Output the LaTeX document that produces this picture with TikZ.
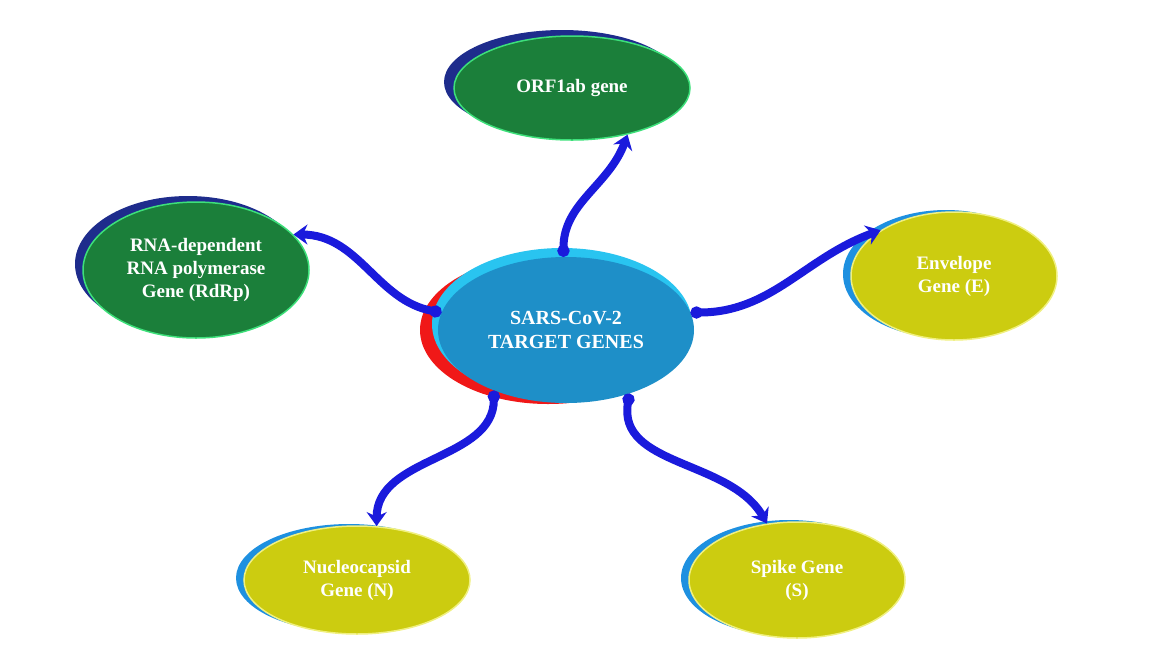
\documentclass[tikz,border=0pt]{standalone}
\usepackage{fontspec}
\setmainfont{Liberation Serif}
\usetikzlibrary{shapes.geometric, arrows.meta}
\definecolor{hubblue}{HTML}{1E8FC8}
\definecolor{hubrim}{HTML}{29C4F0}
\definecolor{hubred}{HTML}{F01818}
\definecolor{genegreen}{HTML}{1B7F3A}
\definecolor{greenrim}{HTML}{3DE07A}
\definecolor{greenshade}{HTML}{1E2C8C}
\definecolor{geneyellow}{HTML}{CCCC10}
\definecolor{yellowrim}{HTML}{F0F080}
\definecolor{yellowshade}{HTML}{1E90E0}
\definecolor{arrowblue}{HTML}{1A1ADC}
\tikzset{
  gene/.style={ellipse, text=white, font=\bfseries\fontsize{19}{23}\selectfont, align=center, inner sep=0pt},
  greengene/.style={gene, fill=genegreen, draw=greenrim, line width=1.5pt},
  yellowgene/.style={gene, fill=geneyellow, draw=yellowrim, line width=1.5pt},
  link/.style={arrowblue, line width=8pt, {Circle[length=12pt]}-{Stealth[length=14pt,width=20pt]}},
}
\begin{document}
\begin{tikzpicture}[x=1pt, y=-1pt]
  \useasboundingbox (0,0) rectangle (1168,657);

  % shadows behind the ellipses
  \fill[hubred] (548,330) ellipse [x radius=128, y radius=74];
  \fill[hubrim] (562,324) ellipse [x radius=130, y radius=76];
  \fill[greenshade] (562,82) ellipse [x radius=118, y radius=52];
  \fill[greenshade] (188,264) ellipse [x radius=113, y radius=68];
  \fill[yellowshade] (946,274) ellipse [x radius=103, y radius=64];
  \fill[yellowshade] (349,578) ellipse [x radius=113, y radius=54];
  \fill[yellowshade] (789,578) ellipse [x radius=108, y radius=58];

  % genes
  \node[ellipse, fill=hubblue, minimum width=256pt, minimum height=146pt,
        text=white, font=\bfseries\fontsize{20}{24}\selectfont, align=center] (hub) at (566,330)
        {SARS-CoV-2\\TARGET GENES};
  \node[greengene, minimum width=236pt, minimum height=104pt] (orf) at (572,88) {ORF1ab gene};
  \node[greengene, minimum width=226pt, minimum height=136pt] (rdrp) at (196,270)
        {RNA-dependent\\RNA polymerase\\Gene (RdRp)};
  \node[yellowgene, minimum width=206pt, minimum height=128pt] (env) at (954,276)
        {Envelope\\Gene (E)};
  \node[yellowgene, minimum width=226pt, minimum height=108pt] (nuc) at (357,580)
        {Nucleocapsid\\Gene (N)};
  \node[yellowgene, minimum width=216pt, minimum height=116pt] (spike) at (797,580)
        {Spike Gene\\(S)};

  % links
  \draw[link] (hub.92) to[out=90, in=-110] (orf.-40);
  \draw[link] (hub.172) to[out=170, in=0] (rdrp.20);
  \draw[link] (hub.8) to[out=0, in=200] (env.148);
  \draw[link] (hub.-140) to[out=-90, in=90] (nuc.70);
  \draw[link] (hub.-45) to[out=-100, in=120] (spike.118);
\end{tikzpicture}
\end{document}
